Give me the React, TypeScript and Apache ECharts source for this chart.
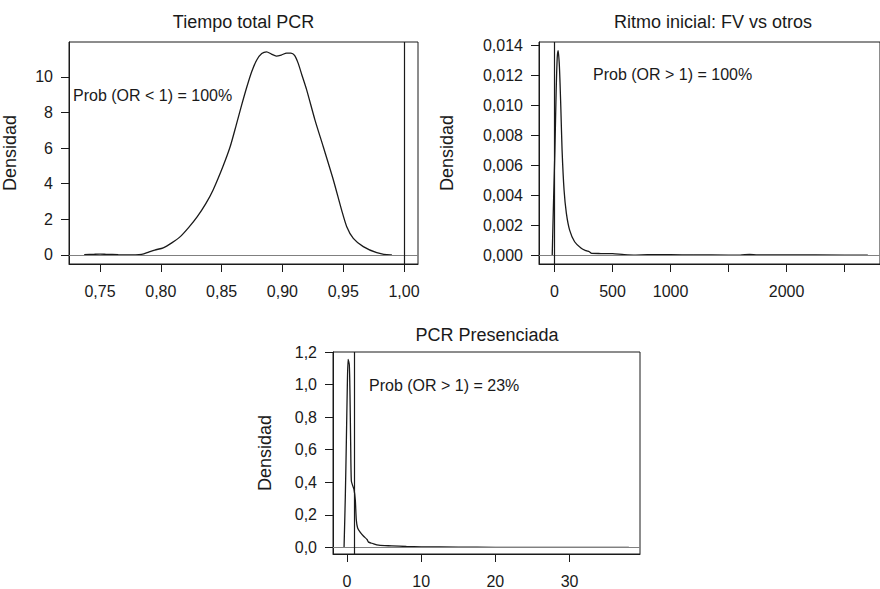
import React, { useEffect, useRef } from "react";
import * as echarts from "echarts";

const FONT = "'Liberation Sans', Arial, Helvetica, sans-serif";
const INK = "#1a1a1a";

// Panel titles
const titles = ["Tiempo total PCR", "Ritmo inicial: FV vs otros", "PCR Presenciada"];
const notes = ["Prob (OR < 1) = 100%", "Prob (OR > 1) = 100%", "Prob (OR > 1) = 23%"];
const yName = "Densidad";

// Panel 1: Tiempo total PCR
const p1x = [0.737, 0.745, 0.75, 0.755, 0.765, 0.775, 0.782, 0.786, 0.79, 0.795, 0.802, 0.809, 0.816, 0.823, 0.83, 0.837, 0.843, 0.851, 0.857, 0.862, 0.866, 0.8706, 0.8748, 0.8789, 0.883, 0.887, 0.891, 0.895, 0.899, 0.9035, 0.907, 0.91, 0.913, 0.916, 0.92, 0.9268, 0.9336, 0.9419, 0.9487, 0.9529, 0.9583, 0.9665, 0.9776, 0.9885, 0.99];
const p1y = [0.02, 0.04, 0.05, 0.04, 0.02, 0.01, 0.02, 0.06, 0.16, 0.28, 0.4, 0.68, 1.03, 1.55, 2.15, 2.88, 3.65, 4.95, 6.07, 7.29, 8.3, 9.4, 10.3, 10.94, 11.3, 11.4, 11.27, 11.16, 11.22, 11.33, 11.33, 11.2, 10.75, 10.1, 9.25, 7.57, 6.07, 4.21, 2.52, 1.59, 0.93, 0.47, 0.13, 0.0, 0.0];
const p1xTicks = [0.75, 0.8, 0.85, 0.9, 0.95, 1.0];
const p1yTicks = [0, 2, 4, 6, 8, 10];

// Panel 2: Ritmo inicial
const p2x = [-20, -9, 3, 14, 23, 31, 42, 54, 65, 82, 102, 130, 173, 230, 272, 300, 320, 400, 500, 600, 700, 800, 1000, 1200, 1500, 1600, 1680, 1750, 2000, 2500, 2700];
const p2y = [0, 0.0035, 0.007, 0.011, 0.0132, 0.01367, 0.0126, 0.0099, 0.007, 0.00435, 0.00279, 0.00167, 0.00089, 0.00045, 0.00029, 0.00022, 0.00011, 0.0001, 0.00009, 0.00003, 0.0, 0.00002, 0.00002, 0.00001, 0.0, 0.0, 0.00004, 0.00001, 0.00001, 0.0, 0.0];
const p2xTicks = [0, 500, 1000, 1500, 2000, 2500];
const p2xLabels = [0, 500, 1000, 2000];
const p2yTicks = [0, 0.002, 0.004, 0.006, 0.008, 0.01, 0.012, 0.014];

// Panel 3: PCR Presenciada
const p3x = [-0.4, -0.23, -0.09, 0.04, 0.15, 0.31, 0.4, 0.49, 0.58, 0.76, 0.94, 1.12, 1.25, 1.43, 1.79, 2.24, 2.7, 2.9, 3.37, 4.26, 6.06, 8, 10, 15, 20, 30, 38];
const p3y = [0, 0.31, 0.65, 0.99, 1.155, 1.12, 0.94, 0.645, 0.41, 0.38, 0.357, 0.29, 0.17, 0.12, 0.093, 0.069, 0.049, 0.033, 0.026, 0.014, 0.01, 0.006, 0.004, 0.002, 0.001, 0.0005, 0.0003];
const p3xTicks = [0, 10, 20, 30];
const p3yTicks = [0, 0.2, 0.4, 0.6, 0.8, 1.0, 1.2];

const refX = [1, 0, 1];

const comma = (d: number) => (v: number) => v.toFixed(d).replace(".", ",");

export default function App() {
  const ref = useRef<HTMLDivElement>(null);
  useEffect(() => {
    if (!ref.current) return;
    const chart = echarts.init(ref.current, null, { renderer: "svg" });

    const grids = [
      { left: 69, top: 42, width: 349, height: 222 },
      { left: 539, top: 42, width: 345, height: 222 },
      { left: 333, top: 352, width: 307, height: 208 },
    ];
    const xRanges = [
      [0.7245, 1.0115],
      [-134, 2805],
      [-1.89, 39.5],
    ];
    const yRanges = [
      [-0.505, 11.95],
      [-0.0006, 0.01425],
      [-0.04, 1.2],
    ];
    const xTicks = [p1xTicks, p2xTicks, p3xTicks];
    const xLabels = [p1xTicks, p2xLabels, p3xTicks];
    const yTicks = [p1yTicks, p2yTicks, p3yTicks];
    const xFmt = [comma(2), comma(0), comma(0)];
    const yFmt = [comma(0), comma(3), comma(1)];
    const nameGaps = [50, 83, 59];
    const datas = [
      p1x.map((x, i) => [x, p1y[i]]),
      p2x.map((x, i) => [x, p2y[i]]),
      p3x.map((x, i) => [x, p3y[i]]),
    ];

    const labelStyle = { fontSize: 16, fontFamily: FONT, color: INK };
    const titlePos = [
      [243.5, 22],
      [713, 22],
      [487, 335],
    ];
    const notePos = [
      [73, 95],
      [593, 74],
      [369, 385],
    ];

    const option: any = {
      animation: false,
      backgroundColor: "#ffffff",
      grid: grids.map((g) => ({
        ...g,
        show: true,
        borderColor: INK,
        borderWidth: 1,
        backgroundColor: "transparent",
        containLabel: false,
      })),
      xAxis: grids.map((_, i) => ({
        type: "value",
        gridIndex: i,
        min: xRanges[i][0],
        max: xRanges[i][1],
        splitLine: { show: false },
        axisLine: { show: true, onZero: false, lineStyle: { color: INK, width: 1 } },
        axisTick: { show: true, inside: false, length: 8, customValues: xTicks[i], lineStyle: { color: INK } },
        axisLabel: {
          ...labelStyle,
          margin: 19,
          customValues: xLabels[i],
          formatter: xFmt[i],
          showMinLabel: true,
          showMaxLabel: true,
          hideOverlap: false,
        },
      })),
      yAxis: grids.map((_, i) => ({
        type: "value",
        gridIndex: i,
        min: yRanges[i][0],
        max: yRanges[i][1],
        name: yName,
        nameLocation: "middle",
        nameGap: nameGaps[i],
        nameRotate: 90,
        nameTextStyle: { fontSize: 18, fontFamily: FONT, color: INK },
        splitLine: { show: false },
        axisLine: { show: true, onZero: false, lineStyle: { color: INK, width: 1 } },
        axisTick: { show: true, inside: false, length: 8, customValues: yTicks[i], lineStyle: { color: INK } },
        axisLabel: {
          ...labelStyle,
          margin: 16,
          customValues: yTicks[i],
          formatter: yFmt[i],
          hideOverlap: false,
        },
      })),
      series: grids.map((_, i) => ({
        type: "line",
        xAxisIndex: i,
        yAxisIndex: i,
        data: datas[i],
        showSymbol: false,
        symbol: "none",
        smooth: 0.25,
        clip: true,
        lineStyle: { color: INK, width: 1.3 },
        markLine: {
          silent: true,
          symbol: ["none", "none"],
          label: { show: false },
          data: [
            { yAxis: 0, lineStyle: { color: "#808080", width: 1.2, type: "solid" } },
            { xAxis: refX[i], lineStyle: { color: INK, width: 1.2, type: "solid" } },
          ],
        },
      })),
      graphic: [
        ...titles.map((t, i) => ({
          type: "text",
          x: titlePos[i][0],
          y: titlePos[i][1],
          silent: true,
          style: {
            text: t,
            fontSize: 18,
            fontFamily: FONT,
            fill: INK,
            align: "center",
            verticalAlign: "middle",
          },
        })),
        ...notes.map((t, i) => ({
          type: "text",
          x: notePos[i][0],
          y: notePos[i][1],
          silent: true,
          style: {
            text: t,
            fontSize: 16,
            fontFamily: FONT,
            fill: INK,
            align: "left",
            verticalAlign: "middle",
          },
        })),
      ],
    };
    chart.setOption(option);
    return () => chart.dispose();
  }, []);
  return (
    <div
      ref={ref}
      style={{ position: "absolute", left: 0, top: 0, width: 880, height: 589, background: "#fff" }}
    />
  );
}
